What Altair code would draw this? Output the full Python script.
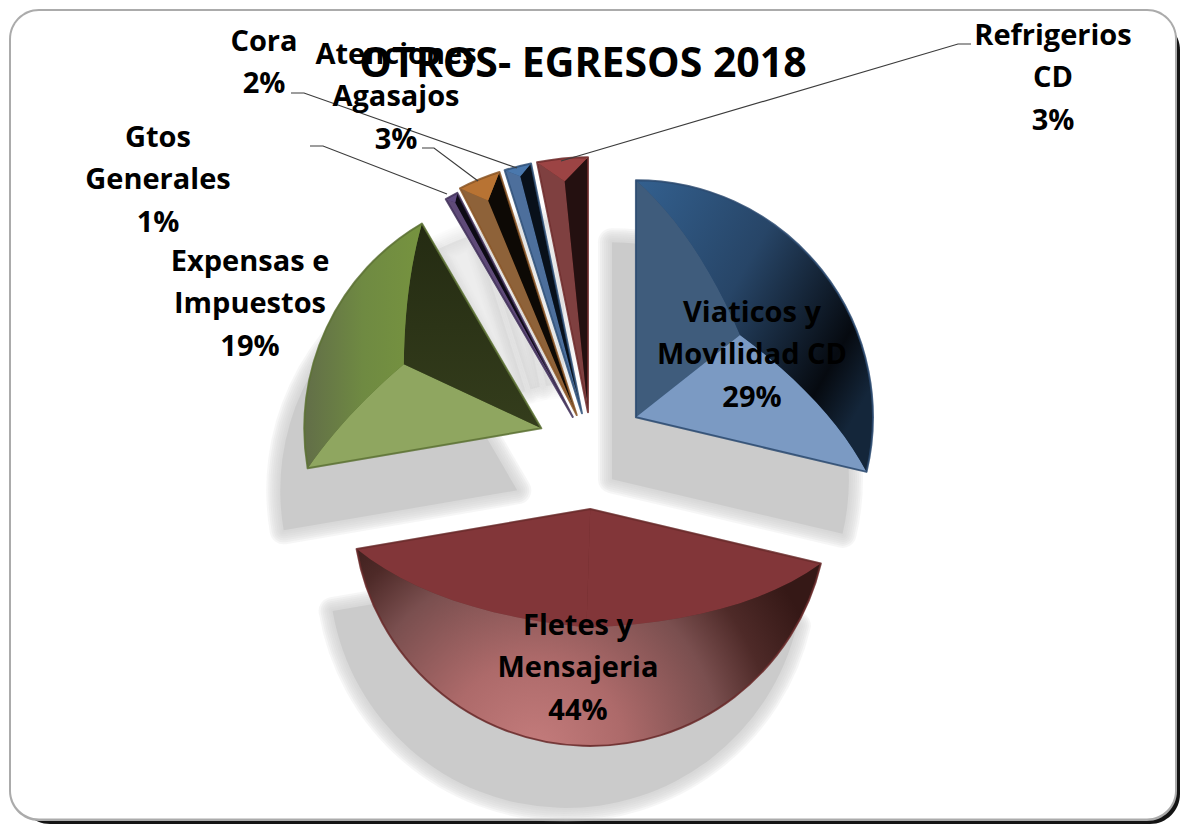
import math
import altair as alt
import pandas as pd

# --- chart values (percent of total) ---
categories = ["Viaticos y Movilidad CD", "Fletes y Mensajeria", "Expensas e Impuestos", "Gtos Generales",
              "Atenciones Agasajos", "Cora", "Refrigerios CD"]
values = [28.7, 43.6, 19.3, 0.83, 2.67, 1.7, 3.2]
explode = [56, 57, 56, 40, 40, 40, 40]
radii = [237, 237, 237, 252, 255, 255, 255]
bevel = [0.56, 0.50, 0.64, 0.97, 0.91, 0.96, 0.91]
bulge = [13, 22, 6, 0, 0, 0, 0]
outline = ["#2b4a70", "#6a2c2c", "#5d7235", "#3f2f58", "#8a5524", "#2f5078", "#6e2c2c"]
shadow_strength = [1, 1, 1, 0.35, 0.35, 0.35, 0.35]
shadow_hole = [0, 0, 0, 90, 90, 90, 90]

label_text = ["Viaticos y\nMovilidad CD\n29%", "Fletes y\nMensajeria\n44%", "Expensas e\nImpuestos\n19%",
              "Gtos\nGenerales\n1%", "Atenciones\nAgasajos\n3%", "Cora\n2%", "Refrigerios\nCD\n3%"]
label_x = [752, 578, 250, 158, 396, 264, 1053]
label_y = [312, 625, 261, 137, 54, 41, 35]

leaders = {
    "Gtos": [(310, 146), (323, 146), (447, 194)],
    "Atenciones": [(422, 148), (434, 148), (478, 181)],
    "Cora": [(291, 93), (304, 93), (517, 168)],
    "Refrigerios": [(971, 44), (958, 44), (561, 161)],
}

def linear(stops, x1=0, y1=0, x2=1, y2=0):
    return alt.LinearGradient(gradient="linear", x1=x1, y1=y1, x2=x2, y2=y2,
                              stops=[alt.GradientStop(offset=o, color=c) for o, c in stops])

def radial(stops, cx, cy, r):
    return alt.RadialGradient(gradient="radial", x1=cx, y1=cy, r1=0, x2=cx, y2=cy, r2=r,
                              stops=[alt.GradientStop(offset=o, color=c) for o, c in stops])

# start side, end side, rim
faces = [
    ("#3f5c7c", "#7b9ac3",
     linear([(0, "#33608f"), (0.45, "#274567"), (0.85, "#060a10"), (1, "#14263a")], 0, 0, 1, 0.7)),
    ("#823639", "#823639",
     radial([(0, "#c47c7c"), (0.3, "#ad6a6a"), (0.62, "#7a4f4f"), (0.8, "#4e2a28"), (1, "#351816")], 0.385, 0.72, 0.64)),
    ("#8fa660", linear([(0, "#242b12"), (1, "#343d1c")], 0, 0, 0, 1),
     linear([(0, "#626e48"), (0.5, "#6f8a42"), (1, "#76933f")])),
    ("#5f4a78", "#0d0a14", "#5f4a80"),
    ("#8e6239", "#0d0905", "#b87333"),
    ("#4d6f9c", "#08101a", "#4a78ad"),
    ("#7f4040", "#241010", "#9c4444"),
]

# --- geometry derived from the values ---
OX, OY = 8, 8
CX, CY = 592, 452
SHADOW = (-24, 62)
W, H = 1172, 816

rows, polys = [], []
cum = 0.0
for i, v in enumerate(values):
    t0 = cum * 2 * math.pi / 100
    cum += v
    t1 = cum * 2 * math.pi / 100
    m = (t0 + t1) / 2
    ax = CX + explode[i] * math.sin(m)
    ay = CY - explode[i] * math.cos(m)
    R = radii[i]
    rows.append(dict(cat=categories[i], cx=ax - OX, cy=ay - OY, sx=ax + SHADOW[0] - OX, sy=ay + SHADOW[1] - OY,
                     t0=t0, t1=t1, r=R, line=outline[i], k=shadow_strength[i], hole=shadow_hole[i]))

    def pol(t, r):
        return (ax + r * math.sin(t), ay - r * math.cos(t))

    I = pol(m, bevel[i] * R)
    B = pol(t0, R)
    C = pol(t1, R)

    def curve(p, q):
        mx, my = (p[0] + q[0]) / 2, (p[1] + q[1]) / 2
        d = math.hypot(mx - ax, my - ay) or 1
        ctrl = (mx + 2 * bulge[i] * (mx - ax) / d, my + 2 * bulge[i] * (my - ay) / d)
        out = []
        for k in range(13):
            u = k / 12
            out.append(((1 - u) ** 2 * p[0] + 2 * u * (1 - u) * ctrl[0] + u ** 2 * q[0],
                        (1 - u) ** 2 * p[1] + 2 * u * (1 - u) * ctrl[1] + u ** 2 * q[1]))
        return out

    arc_pts = [pol(t0 + (t1 - t0) * k / 40, R) for k in range(41)]
    start_face = [(ax, ay)] + [B] + curve(B, I)
    end_face = [(ax, ay)] + [I] + curve(I, C)
    rim_face = curve(I, B) + arc_pts + curve(C, I)
    for face, fill in zip((start_face, end_face, rim_face), faces[i]):
        polys.append((pd.DataFrame([dict(i=n, x=p[0] - OX, y=p[1] - OY) for n, p in enumerate(face)]), fill))

slices = pd.DataFrame(rows)
big = slices[slices.k == 1]
small = slices[slices.k < 1]

px = lambda f: alt.X(f, scale=None, axis=None)
py = lambda f: alt.Y(f, scale=None, axis=None)

def rect(x0, y0, x1, y1, **kw):
    return alt.Chart(pd.DataFrame({"a": [0]})).mark_rect(**kw).encode(
        x=alt.value(x0 - OX), x2=alt.value(x1 - OX), y=alt.value(y0 - OY), y2=alt.value(y1 - OY))

layers = [
    rect(20, 20, 1180, 824, cornerRadius=30, fill="#141414"),
    rect(9, 9, 1177, 821, cornerRadius=30, fill="#ababab"),
    rect(11, 11, 1175, 818.5, cornerRadius=28, fill="#ffffff"),
]

def arc_enc(xf, yf):
    return dict(x=px(xf), y=py(yf), theta=alt.Theta("t0:Q", scale=None, stack=None), theta2="t1:Q",
                radius=alt.Radius("r:Q", scale=None))

def shadow_enc():
    return dict(radius2=alt.Radius2("hole:Q"), **arc_enc("sx:Q", "sy:Q"))

for df, scale_o in ((small, 0.35), (big, 1)):
    for w in (28, 24, 20, 16, 12, 8, 4):
        layers.append(alt.Chart(df).mark_arc(stroke="#cbcbcb", strokeWidth=w, strokeOpacity=0.18 * scale_o,
                                             strokeJoin="round", fill="#cbcbcb", fillOpacity=0).encode(**shadow_enc()))
    layers.append(alt.Chart(df).mark_arc(fill="#cbcbcb", fillOpacity=scale_o).encode(**shadow_enc()))

layers.append(alt.Chart(slices).mark_arc().encode(fill=alt.Fill("line:N", scale=None), **arc_enc("cx:Q", "cy:Q")))
layers.append(alt.Chart(small).mark_arc(stroke="white", strokeWidth=2.5, fillOpacity=0, fill="white").encode(
    **arc_enc("cx:Q", "cy:Q")))

for df, fill in polys:
    layers.append(alt.Chart(df).mark_line(filled=True, fill=fill, stroke=None).encode(
        x=px("x:Q"), y=py("y:Q"), order=alt.Order("i:Q")))

layers.append(alt.Chart(slices).mark_arc(strokeWidth=2, strokeOpacity=0.85, fillOpacity=0, fill="white",
                                         strokeJoin="round").encode(
    stroke=alt.Stroke("line:N", scale=None), **arc_enc("cx:Q", "cy:Q")))

lead_rows = [dict(name=k, i=n, x=p[0] - OX, y=p[1] - OY) for k, pts in leaders.items() for n, p in enumerate(pts)]
layers.append(alt.Chart(pd.DataFrame(lead_rows)).mark_line(color="#3c3c3c", strokeWidth=1.2).encode(
    x=px("x:Q"), y=py("y:Q"), detail="name:N", order=alt.Order("i:Q")))

labels = pd.DataFrame(dict(t=label_text, x=[v - OX for v in label_x], y=[v - OY - 13 for v in label_y]))
layers.append(alt.Chart(labels).mark_text(font="Open Sans", fontWeight="bold", fontSize=29, lineBreak="\n", lineHeight=42.3,
                                          align="center", baseline="top", color="#000000").encode(
    x=px("x:Q"), y=py("y:Q"), text="t:N"))

title_df = pd.DataFrame(dict(t=["OTROS- EGRESOS 2018"], x=[583 - OX], y=[65 - OY]))
layers.append(alt.Chart(title_df).mark_text(font="Open Sans", fontWeight="bold", fontSize=41, align="center",
                                            baseline="middle", color="#000000").encode(
    x=px("x:Q"), y=py("y:Q"), text="t:N"))

chart = alt.layer(*layers).properties(width=W, height=H, padding=0, autosize="none").configure_view(stroke=None)
chart.save("out.html", embed_options={"renderer": "svg", "actions": False})
